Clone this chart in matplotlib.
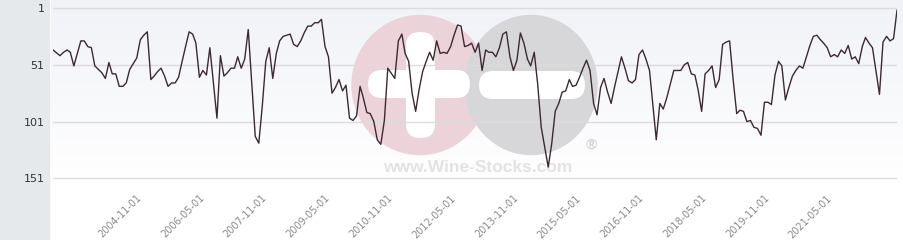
import numpy as np
import pandas as pd
import matplotlib
matplotlib.use("Agg")
import matplotlib.pyplot as plt
import matplotlib.transforms as mtransforms
from matplotlib.patches import Rectangle, Ellipse, FancyBboxPatch

# Rank over time (1 = best)
dates = [
    "2002-10", "2002-12",
    "2003-01", "2003-02", "2003-03", "2003-04", "2003-06", "2003-07", "2003-08", "2003-09", "2003-10", "2003-12",
    "2004-01", "2004-02", "2004-03", "2004-04", "2004-05", "2004-06", "2004-07", "2004-08", "2004-10", "2004-11", "2004-12",
    "2005-01", "2005-02", "2005-03", "2005-04", "2005-05", "2005-06", "2005-07", "2005-08", "2005-09", "2005-10", "2005-11", "2005-12",
    "2006-01", "2006-02", "2006-03", "2006-04", "2006-05", "2006-06", "2006-07", "2006-09", "2006-10", "2006-11", "2006-12",
    "2007-01", "2007-02", "2007-03", "2007-04", "2007-05", "2007-06", "2007-08", "2007-09", "2007-10", "2007-11", "2007-12",
    "2008-01", "2008-02", "2008-03", "2008-04", "2008-05", "2008-06", "2008-07", "2008-08", "2008-09", "2008-10", "2008-11", "2008-12",
    "2009-01", "2009-02", "2009-03", "2009-04", "2009-05", "2009-06", "2009-07", "2009-08", "2009-09", "2009-10", "2009-11", "2009-12",
    "2010-01", "2010-02", "2010-03", "2010-04", "2010-05", "2010-06", "2010-07", "2010-08", "2010-09", "2010-10", "2010-12",
    "2011-01", "2011-02", "2011-03", "2011-04", "2011-05", "2011-06", "2011-07", "2011-08", "2011-09", "2011-10", "2011-11", "2011-12",
    "2012-01", "2012-02", "2012-03", "2012-04", "2012-05", "2012-06", "2012-07", "2012-08", "2012-09", "2012-10", "2012-11", "2012-12",
    "2013-01", "2013-02", "2013-03", "2013-04", "2013-05", "2013-06", "2013-07", "2013-08", "2013-09", "2013-10", "2013-11", "2013-12",
    "2014-01", "2014-02", "2014-03", "2014-04", "2014-05", "2014-06", "2014-08", "2014-09", "2014-10", "2014-11", "2014-12",
    "2015-01", "2015-02", "2015-03", "2015-04", "2015-05", "2015-06", "2015-07", "2015-08", "2015-09", "2015-10", "2015-11", "2015-12",
    "2016-01", "2016-02", "2016-03", "2016-05", "2016-06", "2016-07", "2016-08", "2016-09", "2016-10", "2016-11", "2016-12",
    "2017-01", "2017-02", "2017-03", "2017-04", "2017-05", "2017-06", "2017-07", "2017-08", "2017-09", "2017-10", "2017-11", "2017-12",
    "2018-01", "2018-02", "2018-03", "2018-04", "2018-05", "2018-06", "2018-07", "2018-08", "2018-09", "2018-10", "2018-11", "2018-12",
    "2019-01", "2019-02", "2019-03", "2019-04", "2019-05", "2019-06", "2019-07", "2019-08", "2019-09", "2019-10", "2019-11", "2019-12",
    "2020-01", "2020-02", "2020-03", "2020-04", "2020-05", "2020-06", "2020-07", "2020-08", "2020-09", "2020-10", "2020-11", "2020-12",
    "2021-01", "2021-02", "2021-03", "2021-04", "2021-05", "2021-06", "2021-07", "2021-08", "2021-09", "2021-10", "2021-11", "2021-12",
    "2022-01", "2022-02", "2022-03", "2022-04", "2022-05", "2022-06", "2022-07", "2022-08", "2022-09", "2022-10", "2022-11", "2022-12",
]
ranks = [
    38, 43,
    40, 38, 40, 52, 30, 30, 35, 36, 52, 58,
    63, 49, 59, 59, 70, 70, 67, 55, 45, 29, 25,
    22, 64, 61, 57, 54, 61, 70, 67, 67, 62, 48, 35,
    22, 24, 32, 62, 56, 60, 36, 98, 43, 61, 58,
    54, 54, 44, 54, 46, 20, 114, 120, 88, 48, 36,
    63, 41, 30, 26, 25, 24, 33, 35, 30, 23, 17, 17,
    14, 14, 11, 35, 44, 76, 71, 64, 74, 69, 98, 100,
    96, 70, 80, 93, 94, 101, 117, 121, 100, 54, 63,
    30, 24, 41, 48, 76, 92, 73, 57, 48, 40, 47, 30,
    41, 40, 41, 35, 25, 16, 17, 35, 34, 32, 40, 32,
    56, 38, 40, 40, 44, 36, 24, 22, 44, 56, 47, 23,
    32, 46, 52, 40, 68, 106, 141, 120, 92, 85, 75,
    74, 64, 70, 69, 62, 54, 47, 56, 85, 95, 71, 63,
    75, 85, 71, 44, 54, 65, 67, 64, 42, 38, 46,
    56, 88, 117, 85, 90, 80, 68, 56, 56, 56, 51, 49,
    59, 60, 73, 92, 59, 56, 52, 71, 64, 33, 31, 30,
    64, 94, 91, 92, 101, 100, 106, 107, 113, 84, 84, 86,
    60, 48, 52, 82, 71, 61, 56, 52, 54, 44, 34, 26,
    25, 29, 32, 36, 44, 42, 44, 38, 41, 34, 46, 44,
    50, 35, 27, 32, 36, 57, 77, 31, 26, 30, 28, 3,
]
y_ticks = [1, 51, 101, 151]
x_tick_labels = ["2004-11-01", "2006-05-01", "2007-11-01", "2009-05-01", "2010-11-01", "2012-05-01",
                 "2013-11-01", "2015-05-01", "2016-11-01", "2018-05-01", "2019-11-01", "2021-05-01"]

x = pd.to_datetime([d + "-01" for d in dates])
x_ticks = pd.to_datetime(x_tick_labels)

W, H = 904, 240
fig = plt.figure(figsize=(W / 100, H / 100), dpi=100)

# background layer in pixel coordinates
bg = fig.add_axes([0, 0, 1, 1])
bg.set_xlim(0, W)
bg.set_ylim(H, 0)
bg.axis("off")
grad = np.linspace(0, 1, 200)[:, None]
top = np.array([0.945, 0.95, 0.97])
bot = np.array([1.0, 1.0, 1.0])
img = top[None, None, :] * (1 - grad[..., None]) + bot[None, None, :] * grad[..., None]
bg.imshow(img, extent=(51, W, 185, 0), aspect="auto", zorder=0)
bg.add_patch(Rectangle((0, 0), 49, H, color="#e6e9ec", zorder=1))

# watermark logo
bg.add_patch(Ellipse((420, 85), 136, 139, color="#ecd3da", zorder=2))
bg.add_patch(Ellipse((531, 85), 132, 139, color="#d7d7da", zorder=3))
bar = dict(boxstyle="round,pad=0,rounding_size=14", color="white", lw=0, zorder=4)
bg.add_patch(FancyBboxPatch((406, 32), 29, 106, **bar))
bg.add_patch(FancyBboxPatch((368, 70), 102, 28, **bar))
bg.add_patch(FancyBboxPatch((479, 71), 106, 28, **bar))
bg.text(478, 167, "www.Wine-Stocks.com", ha="center", va="center", fontsize=12.5,
        fontweight="bold", family="Liberation Sans", color="#e3e3e6", zorder=4)
bg.text(591, 145, "\u00ae", ha="center", va="center", fontsize=11,
        fontweight="bold", family="Liberation Sans", color="#d3d3d6", zorder=4)

# main chart
ax = fig.add_axes([53 / W, 1 - 180 / H, 844 / W, 180 / H])
ax.patch.set_alpha(0)
ax.plot(x, ranks, color="#3b2a32", lw=1.0, zorder=3)
ax.set_xlim(x[0], x[-1])
ax.set_ylim(152.4, -6)
ax.set_yticks(y_ticks)
ax.set_yticklabels([str(v) for v in y_ticks], fontsize=8, color="#333333")
ax.tick_params(axis="y", length=0, pad=6)
ax.grid(axis="y", color="#dcdcdc", lw=1)
ax.set_xticks([])
for s in ax.spines.values():
    s.set_visible(False)

trans = mtransforms.blended_transform_factory(ax.transData, ax.transAxes)
trans = trans + mtransforms.ScaledTranslation(-4 / 100, -13 / 100, fig.dpi_scale_trans)
for t, lab in zip(x_ticks, x_tick_labels):
    ax.text(t, 0, lab, transform=trans, rotation=45, rotation_mode="anchor",
            ha="right", va="top", fontsize=7, color="#8a8a8a")

fig.savefig("out.png", dpi=100)
